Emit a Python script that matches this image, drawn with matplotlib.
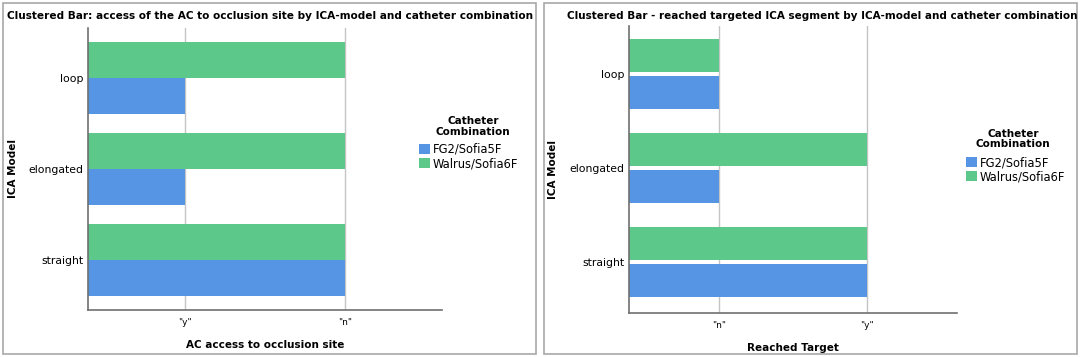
import matplotlib
matplotlib.use("Agg")
import matplotlib.pyplot as plt
from matplotlib.patches import Rectangle, Patch

plt.rcParams['font.family'] = ['DejaVu Sans']

# data
models = ["loop", "elongated", "straight"]
series = ["FG2/Sofia5F", "Walrus/Sofia6F"]
colors = {"FG2/Sofia5F": "#5595e4", "Walrus/Sofia6F": "#5cc98b"}

access_cats = ['"y"', '"n"']
access_fg2 = ['"y"', '"y"', '"n"']
access_walrus = ['"n"', '"n"', '"n"']

target_cats = ['"n"', '"y"']
target_fg2 = ['"n"', '"n"', '"y"']
target_walrus = ['"n"', '"y"', '"y"']


def px(x0, y0, x1, y1):
    # pixel box (top-left origin) -> figure fraction rect
    return [x0 / 1080, 1 - y1 / 357, (x1 - x0) / 1080, (y1 - y0) / 357]


fig = plt.figure(figsize=(10.8, 3.57), dpi=100)

# panel frames
for x0, x1 in [(3, 536), (544, 1077)]:
    r = px(x0, 3, x1, 354)
    fig.patches.append(Rectangle((r[0], r[1]), r[2], r[3], transform=fig.transFigure,
                                 fill=False, edgecolor="#a8a8a8", lw=1.2))


def panel(box, cats, fg2, walrus, ylims, bar_h, off, title, title_x, title_fs,
          xlabel, ylab_x, leg_title_xy, leg_xy):
    ax = fig.add_axes(px(*box))
    pos = {c: i + 1 for i, c in enumerate(cats)}
    ys = range(len(models))
    ax.barh([y + off for y in ys], [pos[v] for v in fg2], height=bar_h,
            color=colors["FG2/Sofia5F"], zorder=2)
    ax.barh([y - off for y in ys], [pos[v] for v in walrus], height=bar_h,
            color=colors["Walrus/Sofia6F"], zorder=2)
    ax.set_xlim(0.395, 2.605)
    ax.set_ylim(*ylims)
    ax.set_yticks(list(ys))
    ax.set_yticklabels(models, fontsize=7.8)
    ax.set_xticks([1, 2])
    ax.set_xticklabels(cats, fontsize=6.5)
    ax.tick_params(length=0, pad=6)
    ax.tick_params(axis='y', pad=3)
    for x in [1, 2]:
        ax.axvline(x, color="#c4c4c4", lw=1, zorder=1)
    for s in ["top", "right"]:
        ax.spines[s].set_visible(False)
    for s in ["left", "bottom"]:
        ax.spines[s].set_color("#707070")
        ax.spines[s].set_linewidth(1.2)
    ax.set_xlabel(xlabel, fontsize=7.5, fontweight="bold", labelpad=9)
    ax.set_ylabel("ICA Model", fontsize=7.5, fontweight="bold")
    ax.yaxis.set_label_coords(ylab_x / 1080, 0.5 * (2 - (box[1] + box[3]) / 357),
                              transform=fig.transFigure)
    fig.text(title_x / 1080, 1 - 16 / 357, title, fontsize=title_fs, fontweight="bold",
             ha="left", va="center")
    fig.text(leg_title_xy[0] / 1080, 1 - leg_title_xy[1] / 357, "Catheter\nCombination",
             fontsize=7.5, fontweight="bold", ha="center", va="center",
             multialignment="center", linespacing=1.05)
    handles = [Patch(facecolor=colors[s], edgecolor="none") for s in series]
    fig.legend(handles, series, loc="upper left",
               bbox_to_anchor=(leg_xy[0] / 1080, 1 - leg_xy[1] / 357),
               frameon=False, fontsize=8.3,
               handlelength=0.95, handleheight=0.95, handletextpad=0.25,
               labelspacing=0.12, borderpad=0, borderaxespad=0)
    return ax


panel((88, 28, 442, 310), access_cats, access_fg2, access_walrus,
      (2.55, -0.555), 0.395, 0.198,
      "Clustered Bar: access of the AC to occlusion site by ICA-model and catheter combination",
      7, 7.6, "AC access to occlusion site", 18, (473, 126.5), (419, 143))

panel((629, 26, 957, 313), target_cats, target_fg2, target_walrus,
      (2.54, -0.51), 0.351, 0.197,
      "Clustered Bar - reached targeted ICA segment by ICA-model and catheter combination",
      567, 7.45, "Reached Target", 558, (1013, 139), (966, 156))

fig.savefig("out.png", dpi=100)
